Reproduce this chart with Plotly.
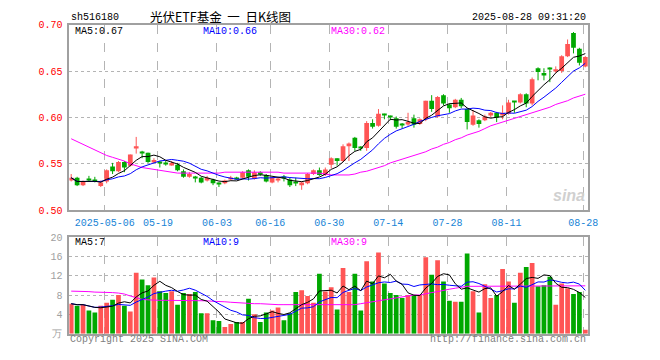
import plotly.graph_objects as go
import pandas as pd
import numpy as np

# ---------------- data ----------------
holidays = ["2025-05-01", "2025-05-02", "2025-05-05", "2025-06-02"]
dates = [d.strftime("%Y-%m-%d") for d in pd.bdate_range("2025-04-23", "2025-08-28")
         if d.strftime("%Y-%m-%d") not in holidays]

open_ = [0.532, 0.535, 0.527, 0.533, 0.532, 0.526, 0.531, 0.547, 0.542, 0.552,
         0.548, 0.567, 0.563, 0.562, 0.552, 0.552, 0.551, 0.549, 0.549, 0.542,
         0.536, 0.536, 0.535, 0.532, 0.533, 0.529, 0.529, 0.534, 0.535, 0.535,
         0.543, 0.534, 0.541, 0.538, 0.530, 0.532, 0.536, 0.533, 0.530, 0.527,
         0.529, 0.539, 0.543, 0.538, 0.549, 0.556, 0.553, 0.569, 0.578, 0.568,
         0.567, 0.594, 0.591, 0.603, 0.601, 0.599, 0.593, 0.593, 0.599, 0.593,
         0.598, 0.618, 0.601, 0.624, 0.614, 0.611, 0.619, 0.609, 0.592, 0.597,
         0.597, 0.602, 0.605, 0.602, 0.604, 0.617, 0.616, 0.625, 0.615, 0.653,
         0.648, 0.653, 0.650, 0.650, 0.666, 0.691, 0.674, 0.655]
high = [0.539, 0.536, 0.532, 0.537, 0.536, 0.532, 0.544, 0.551, 0.553, 0.553,
        0.560, 0.579, 0.564, 0.562, 0.556, 0.553, 0.553, 0.553, 0.551, 0.544,
        0.541, 0.537, 0.536, 0.537, 0.534, 0.530, 0.533, 0.537, 0.536, 0.542,
        0.544, 0.543, 0.542, 0.539, 0.536, 0.535, 0.538, 0.535, 0.535, 0.531,
        0.540, 0.544, 0.546, 0.546, 0.557, 0.556, 0.571, 0.573, 0.579, 0.569,
        0.596, 0.598, 0.609, 0.604, 0.602, 0.601, 0.594, 0.605, 0.603, 0.599,
        0.618, 0.624, 0.623, 0.625, 0.615, 0.620, 0.621, 0.610, 0.608, 0.598,
        0.603, 0.606, 0.606, 0.613, 0.619, 0.617, 0.626, 0.626, 0.643, 0.654,
        0.653, 0.654, 0.655, 0.667, 0.684, 0.692, 0.675, 0.666]
low = [0.531, 0.526, 0.526, 0.531, 0.530, 0.525, 0.529, 0.539, 0.541, 0.541,
       0.547, 0.561, 0.556, 0.551, 0.551, 0.546, 0.548, 0.548, 0.542, 0.535,
       0.535, 0.530, 0.529, 0.531, 0.527, 0.525, 0.528, 0.532, 0.533, 0.534,
       0.532, 0.533, 0.537, 0.530, 0.529, 0.530, 0.531, 0.525, 0.526, 0.522,
       0.528, 0.538, 0.537, 0.537, 0.545, 0.548, 0.552, 0.553, 0.564, 0.564,
       0.564, 0.588, 0.590, 0.598, 0.597, 0.588, 0.588, 0.591, 0.589, 0.592,
       0.596, 0.606, 0.600, 0.613, 0.605, 0.610, 0.610, 0.587, 0.591, 0.589,
       0.596, 0.600, 0.595, 0.598, 0.603, 0.605, 0.615, 0.611, 0.613, 0.640,
       0.640, 0.638, 0.648, 0.648, 0.665, 0.669, 0.656, 0.654]
close = [0.535, 0.527, 0.531, 0.532, 0.531, 0.530, 0.543, 0.542, 0.552, 0.546,
         0.560, 0.569, 0.562, 0.552, 0.554, 0.551, 0.550, 0.551, 0.543, 0.536,
         0.539, 0.535, 0.530, 0.535, 0.529, 0.528, 0.532, 0.535, 0.534, 0.541,
         0.536, 0.541, 0.539, 0.531, 0.535, 0.533, 0.535, 0.527, 0.529, 0.530,
         0.539, 0.543, 0.538, 0.544, 0.556, 0.553, 0.569, 0.572, 0.567, 0.567,
         0.594, 0.590, 0.604, 0.602, 0.600, 0.590, 0.592, 0.595, 0.592, 0.598,
         0.618, 0.609, 0.622, 0.615, 0.610, 0.619, 0.612, 0.595, 0.602, 0.593,
         0.601, 0.605, 0.600, 0.605, 0.616, 0.616, 0.625, 0.615, 0.641, 0.649,
         0.646, 0.652, 0.652, 0.666, 0.679, 0.675, 0.659, 0.665]
volume = [6.2, 5.8, 6.0, 4.8, 4.4, 5.8, 6.4, 7.0, 8.0, 5.8,
          4.6, 12.6, 11.2, 10.0, 11.6, 8.8, 8.4, 8.8, 6.0, 8.4,
          8.2, 8.6, 4.2, 4.2, 2.8, 2.6, 1.4, 2.0, 2.4, 2.4,
          7.2, 4.0, 2.4, 4.4, 4.8, 5.4, 2.8, 4.2, 8.6, 9.0,
          7.8, 6.4, 12.4, 8.7, 9.6, 5.0, 13.6, 8.6, 12.4, 4.8,
          15.0, 10.8, 16.8, 10.4, 8.4, 8.0, 7.4, 8.0, 8.0, 8.0,
          15.8, 12.2, 15.2, 10.8, 6.8, 6.6, 6.6, 16.6, 8.8, 4.4,
          10.2, 7.4, 8.0, 13.4, 10.8, 6.4, 12.6, 13.8, 14.6, 9.8,
          10.0, 11.8, 6.0, 10.4, 9.4, 8.2, 8.6, 0.8]
ma30_price = [0.577, 0.574, 0.571, 0.568, 0.565, 0.562, 0.559, 0.557, 0.555, 0.553,
              0.550, 0.548, 0.546, 0.545, 0.544, 0.543, 0.542, 0.541, 0.540, 0.540,
              0.540, 0.540, 0.540, 0.540, 0.540, 0.540, 0.541, 0.541, 0.541, 0.541,
              0.541, 0.541, 0.541, 0.541, 0.541, 0.541, 0.540, 0.540, 0.540, 0.540,
              0.540, 0.540, 0.540, 0.539, 0.538, 0.538, 0.538, 0.538, 0.539, 0.541,
              0.542, 0.544, 0.546, 0.548, 0.551, 0.553, 0.555, 0.557, 0.559, 0.561,
              0.563, 0.566, 0.568, 0.571, 0.573, 0.576, 0.578, 0.581, 0.583, 0.585,
              0.588, 0.591, 0.593, 0.595, 0.597, 0.599, 0.601, 0.603, 0.605, 0.607,
              0.609, 0.611, 0.614, 0.616, 0.618, 0.621, 0.623, 0.625]
ma30_volume = [8.8, 8.8, 8.7, 8.7, 8.6, 8.6, 8.5, 8.5, 8.4, 8.2,
               7.8, 7.4, 7.1, 7.0, 6.9, 6.9, 6.9, 6.9, 6.9, 6.9,
               6.9, 6.9, 6.8, 6.8, 6.7, 6.7, 6.6, 6.5, 6.4, 6.3,
               6.3, 6.2, 6.2, 6.1, 6.1, 6.0, 6.0, 6.0, 6.0, 6.0,
               6.0, 6.0, 6.0, 6.0, 6.0, 6.0, 6.0, 6.0, 6.0, 6.2,
               6.4, 6.7, 6.9, 7.1, 7.3, 7.4, 7.6, 7.8, 8.0, 8.0,
               8.3, 8.5, 8.7, 9.0, 9.2, 9.4, 9.6, 9.8, 9.8, 9.8,
               9.8, 9.8, 9.8, 9.9, 9.9, 9.9, 9.9, 9.9, 9.9, 9.9,
               9.9, 9.9, 9.9, 9.9, 9.9, 9.9, 9.9, 9.9]

tick_dates = ["2025-05-06", "2025-05-19", "2025-06-03", "2025-06-16", "2025-06-30",
              "2025-07-14", "2025-07-28", "2025-08-11", "2025-08-28"]
tick_labels = ["2025-05-06", "05-19", "06-03", "06-16", "06-30",
               "07-14", "07-28", "08-11", "08-28"]
price_ticks = [0.50, 0.55, 0.60, 0.65, 0.70]
vol_ticks = [0, 4, 8, 12, 16, 20]
vol_tick_labels = ["万", "4", "8", "12", "16", "20"]

# ---------------- derived ----------------
n = len(dates)
idx = np.arange(n)
o = np.array(open_); c = np.array(close); h = np.array(high); l = np.array(low)
up = c >= o
RED = "#ff5555"
GREEN = "#00a800"
cols = [RED if u else GREEN for u in up]
ma5 = pd.Series(c).rolling(5, min_periods=1).mean()
ma10 = pd.Series(c).rolling(10, min_periods=1).mean()
v = pd.Series(volume)
vma5 = v.rolling(5, min_periods=1).mean()
vma10 = v.rolling(10, min_periods=1).mean()

body_lo = np.minimum(o, c)
body_h = np.maximum(np.abs(c - o), 0.0011)

tick_pos = [dates.index(d) - 0.33 for d in tick_dates]

fig = go.Figure()

# wicks
for flag, colr in [(True, RED), (False, GREEN)]:
    xs, ys = [], []
    for i in range(n):
        if bool(up[i]) == flag:
            xs += [i, i, None]
            ys += [l[i], h[i], None]
    fig.add_trace(go.Scatter(x=xs, y=ys, mode="lines", line=dict(color=colr, width=1),
                             hoverinfo="skip", xaxis="x", yaxis="y"))
# bodies
fig.add_trace(go.Bar(x=idx, y=body_h, base=body_lo, width=0.8, marker_color=cols,
                     marker_line_width=0, xaxis="x", yaxis="y", hoverinfo="skip"))
# price MAs
fig.add_trace(go.Scatter(x=idx, y=ma30_price, mode="lines", line=dict(color="#ff00ff", width=1),
                         xaxis="x", yaxis="y", hoverinfo="skip"))
fig.add_trace(go.Scatter(x=idx, y=ma10, mode="lines", line=dict(color="#0000ff", width=1),
                         xaxis="x", yaxis="y", hoverinfo="skip"))
fig.add_trace(go.Scatter(x=idx, y=ma5, mode="lines", line=dict(color="#000000", width=1),
                         xaxis="x", yaxis="y", hoverinfo="skip"))

# volume
fig.add_trace(go.Bar(x=idx, y=volume, width=0.8, marker_color=cols, marker_line_width=0,
                     xaxis="x2", yaxis="y2", hoverinfo="skip"))
fig.add_trace(go.Scatter(x=idx, y=ma30_volume, mode="lines", line=dict(color="#ff00ff", width=1),
                         xaxis="x2", yaxis="y2", hoverinfo="skip"))
fig.add_trace(go.Scatter(x=idx, y=vma10, mode="lines", line=dict(color="#0000ff", width=1),
                         xaxis="x2", yaxis="y2", hoverinfo="skip"))
fig.add_trace(go.Scatter(x=idx, y=vma5, mode="lines", line=dict(color="#000000", width=1),
                         xaxis="x2", yaxis="y2", hoverinfo="skip"))

W, H = 660, 360
x0, x1 = 70.5, 597.5
mono = "Liberation Mono"
FRAME = "#a0a0a0"
GRID = "#b4b4b4"
xrange_ = [-0.3, n - 1 + 0.53]

common_x = dict(range=xrange_, domain=[x0 / W, x1 / W], showline=True, mirror=True,
                linecolor=FRAME, linewidth=2, tickmode="array", tickvals=tick_pos,
                showgrid=True, gridcolor=GRID, griddash="dash", gridwidth=1,
                zeroline=False, ticks="", fixedrange=True)

fig.update_layout(
    width=W, height=H, margin=dict(l=0, r=0, t=0, b=0),
    plot_bgcolor="white", paper_bgcolor="white", showlegend=False,
    barmode="overlay",
    xaxis=dict(common_x, anchor="y", ticktext=tick_labels,
               tickfont=dict(family=mono, size=10, color="#1884d6"), ticklabelstandoff=2),
    yaxis=dict(domain=[(H - 212.3) / H, (H - 20.3) / H], range=[0.50, 0.70],
               tickvals=price_ticks, ticktext=[f"{t:.2f}" for t in price_ticks],
               tickfont=dict(family=mono, size=10, color="#ff0000"),
               showline=True, mirror=True, linecolor=FRAME, linewidth=2,
               showgrid=True, gridcolor=GRID, griddash="dot", gridwidth=1,
               zeroline=False, ticks="", ticklabelstandoff=3, fixedrange=True),
    xaxis2=dict(common_x, anchor="y2", showticklabels=False, ticktext=tick_labels),
    yaxis2=dict(domain=[(H - 340) / H, (H - 240) / H], range=[0, 20],
                tickvals=vol_ticks, ticktext=vol_tick_labels,
                tickfont=dict(family=mono, size=10, color="#a0a0a0"),
                showline=True, mirror=True, linecolor=FRAME, linewidth=2,
                showgrid=True, gridcolor=GRID, griddash="dot", gridwidth=1,
                zeroline=False, ticks="", ticklabelstandoff=3, fixedrange=True),
)

def ann(text, x, y, color="#000000", xanchor="left", size=10, family=mono):
    fig.add_annotation(text=text, x=x / W, y=1 - y / H, xref="paper", yref="paper",
                       xanchor=xanchor, yanchor="middle", showarrow=False,
                       font=dict(family=family, size=size, color=color))

ann("sh516180", 70, 13)
ann("光伏ETF基金&nbsp;&nbsp;一&nbsp;&nbsp;日K线图", 224, 12, xanchor="center", size=12.5,
    family="Noto Sans CJK SC")
ann("2025-08-28 09:31:20", 597, 13, xanchor="right")
ann("MA5:0.67", 74, 27)
ann("MA10:0.66", 204, 27, color="#0000ff")
ann("MA30:0.62", 334, 27, color="#ff00ff")
ann("MA5:7", 74, 246)
ann("MA10:9", 204, 246, color="#0000ff")
ann("MA30:9", 334, 246, color="#ff00ff")
ann("Copyright 2025 SINA.COM", 69, 346, color="#808080")
ann("http://finance.sina.com.cn", 597, 346, color="#808080", xanchor="right")
ann("<i><b>sina</b></i>", 578, 197, color="#d0d0d0", xanchor="center", size=16, family="Liberation Sans")

pin = ("var gd=document.getElementById('{plot_id}');"
       "gd.style.position='fixed';gd.style.left='0px';gd.style.top='0px';"
       "document.body.style.margin='0px';"
       "document.documentElement.style.overflow='hidden';"
       "document.body.style.overflow='hidden';")
fig.write_html("out.html", config={"displayModeBar": False}, post_script=pin)
